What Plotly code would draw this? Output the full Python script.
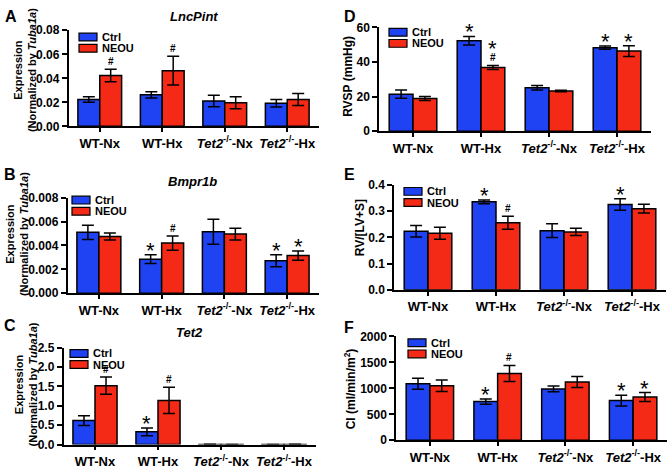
import plotly.graph_objects as go

W, H = 670, 472

groups = ["WT-Nx", "WT-Hx", "<i>Tet2</i><sup>-/-</sup>-Nx", "<i>Tet2</i><sup>-/-</sup>-Hx"]

# A - LncPint
lnc_ctrl = [0.0223, 0.0263, 0.0212, 0.0193]
lnc_ctrl_err = [0.0023, 0.0026, 0.0048, 0.0031]
lnc_neou = [0.0424, 0.0464, 0.0196, 0.0223]
lnc_neou_err = [0.0052, 0.0120, 0.0050, 0.0050]
lnc_ctrl_sig = ["", "", "", ""]
lnc_neou_sig = ["#", "#", "", ""]

# B - Bmpr1b
bmp_ctrl = [0.0051, 0.00285, 0.00515, 0.00272]
bmp_ctrl_err = [0.0006, 0.00037, 0.00105, 0.0005]
bmp_neou = [0.00475, 0.0042, 0.00495, 0.00315]
bmp_neou_err = [0.0003, 0.0006, 0.0005, 0.00038]
bmp_ctrl_sig = ["", "*", "", "*"]
bmp_neou_sig = ["", "#", "", "*"]

# C - Tet2
tet_ctrl = [0.62, 0.33, 0.006, 0.003]
tet_ctrl_err = [0.125, 0.10, 0.002, 0.001]
tet_neou = [1.52, 1.14, 0.004, 0.005]
tet_neou_err = [0.22, 0.335, 0.001, 0.002]
tet_ctrl_sig = ["", "*", "", ""]
tet_neou_sig = ["#", "#", "", ""]

# D - RVSP
rvsp_ctrl = [21.4, 52.3, 25.1, 48.3]
rvsp_ctrl_err = [2.4, 2.5, 1.3, 0.9]
rvsp_neou = [18.9, 36.8, 23.2, 46.3]
rvsp_neou_err = [1.1, 1.2, 0.4, 3.1]
rvsp_ctrl_sig = ["", "*", "", "*"]
rvsp_neou_sig = ["", "*#", "", "*"]

# E - RV/[LV+S]
rv_ctrl = [0.224, 0.336, 0.226, 0.326]
rv_ctrl_err = [0.022, 0.007, 0.026, 0.022]
rv_neou = [0.216, 0.256, 0.221, 0.310]
rv_neou_err = [0.023, 0.025, 0.014, 0.017]
rv_ctrl_sig = ["", "*", "", "*"]
rv_neou_sig = ["", "#", "", ""]

# F - CI
ci_ctrl = [1087, 745, 988, 764]
ci_ctrl_err = [106, 50, 56, 103]
ci_neou = [1050, 1286, 1124, 832]
ci_neou_err = [112, 155, 106, 87]
ci_ctrl_sig = ["", "*", "", "*"]
ci_neou_sig = ["", "#", "", "*"]

BLUE = "#1f43f2"
RED = "#f42a17"
FONT = "Arial, Liberation Sans, sans-serif"

left_title = "Expression<br>(Normalized by <i>Tuba1a</i>)"

# layout of each panel in pixels: x0, x1 (x axis), ytop, ybot (y axis), legend box, letter, title, ytitle
panels = [
    dict(letter="A", title="LncPint", ctrl=lnc_ctrl, ce=lnc_ctrl_err, neou=lnc_neou, ne=lnc_neou_err,
         cs=lnc_ctrl_sig, ns=lnc_neou_sig, ymax=0.08, dtick=0.02, fmt=".2f",
         x0=68.5, x1=318.5, yt=24, yb=123, leg=(79, 27), let=(3, 10), ttl_y=10,
         ytitle=left_title, yt_x=25, yt_y=65, yt_size=11),
    dict(letter="B", title="Bmpr1b", ctrl=bmp_ctrl, ce=bmp_ctrl_err, neou=bmp_neou, ne=bmp_neou_err,
         cs=bmp_ctrl_sig, ns=bmp_neou_sig, ymax=0.008, dtick=0.002, fmt=".3f",
         x0=67.5, x1=318.5, yt=196.5, yb=295, leg=(72, 195), let=(2, 173), ttl_y=180,
         ytitle=left_title, yt_x=17, yt_y=234, yt_size=11),
    dict(letter="C", title="Tet2", ctrl=tet_ctrl, ce=tet_ctrl_err, neou=tet_neou, ne=tet_neou_err,
         cs=tet_ctrl_sig, ns=tet_neou_sig, ymax=2.5, dtick=0.5, fmt=".1f",
         x0=63.5, x1=315.5, yt=351, yb=451, leg=(70, 353), let=(2, 328), ttl_y=335,
         ytitle=left_title, yt_x=26, yt_y=389, yt_size=11),
    dict(letter="D", title="", ctrl=rvsp_ctrl, ce=rvsp_ctrl_err, neou=rvsp_neou, ne=rvsp_neou_err,
         cs=rvsp_ctrl_sig, ns=rvsp_neou_sig, ymax=60, dtick=20, fmt="d",
         x0=379, x1=651, yt=21, yb=128, leg=(389, 22), let=(342, 10), ttl_y=0,
         ytitle="RVSP (mmHg)", yt_x=348, yt_y=72, yt_size=12),
    dict(letter="E", title="", ctrl=rv_ctrl, ce=rv_ctrl_err, neou=rv_neou, ne=rv_neou_err,
         cs=rv_ctrl_sig, ns=rv_neou_sig, ymax=0.4, dtick=0.1, fmt=".1f",
         x0=394, x1=666, yt=183.5, yb=291.5, leg=(404, 186), let=(342, 173), ttl_y=0,
         ytitle="RV/[LV+S]", yt_x=360, yt_y=228, yt_size=12),
    dict(letter="F", title="", ctrl=ci_ctrl, ce=ci_ctrl_err, neou=ci_neou, ne=ci_neou_err,
         cs=ci_ctrl_sig, ns=ci_neou_sig, ymax=2000, dtick=500, fmt="d",
         x0=396, x1=667, yt=339.5, yb=446.5, leg=(408, 342), let=(342, 330), ttl_y=0,
         ytitle="CI (ml/min/m<sup>2</sup>)", yt_x=350, yt_y=393, yt_size=12),
]

fig = go.Figure()
shapes = []
annotations = []
xpos = list(range(len(groups)))
half = 0.175  # offset of each bar center from the group center (bargap 0.3)

for i, p in enumerate(panels):
    n = "" if i == 0 else str(i + 1)
    xa, ya = "x" + n, "y" + n
    for name, vals, errs, col in [("Ctrl", p["ctrl"], p["ce"], BLUE), ("NEOU", p["neou"], p["ne"], RED)]:
        fig.add_trace(go.Bar(
            x=xpos, y=vals, name=name, xaxis=xa, yaxis=ya, showlegend=False,
            marker=dict(color=col, line=dict(color="black", width=1.5)),
            error_y=dict(type="data", array=errs, color="black", thickness=1.5, width=6),
        ))

    xdom = [p["x0"] / W, p["x1"] / W]
    ydom = [1 - p["yb"] / H, 1 - p["yt"] / H]
    tickv = [round(k * p["dtick"], 6) for k in range(int(round(p["ymax"] / p["dtick"])) + 1)]
    fig.layout["xaxis" + n] = dict(
        domain=xdom, anchor=ya, range=[-0.5, 3.5], tickvals=xpos, ticktext=groups,
        showline=True, linecolor="black", linewidth=1.5, ticks="outside", ticklen=4,
        tickwidth=1.5, tickcolor="black", showgrid=False, zeroline=False,
        tickfont=dict(family=FONT, size=13, color="black", weight="bold"),
    )
    fig.layout["yaxis" + n] = dict(
        domain=ydom, anchor=xa, range=[0, p["ymax"]], tickvals=tickv, tickformat=p["fmt"],
        showline=True, linecolor="black", linewidth=1.5, ticks="outside", ticklen=5,
        tickwidth=1.5, tickcolor="black", showgrid=False, zeroline=False,
        tickfont=dict(family=FONT, size=12, color="black", weight="bold"),
    )

    # significance marks
    for vals, errs, sigs, off in [(p["ctrl"], p["ce"], p["cs"], -half), (p["neou"], p["ne"], p["ns"], half)]:
        for k, s in enumerate(sigs):
            top = vals[k] + errs[k]
            if "#" in s:
                annotations.append(dict(x=k + off, y=top, xref=xa, yref=ya, text="#", showarrow=False,
                                        yanchor="bottom", yshift=0,
                                        font=dict(family=FONT, size=10, color="black", weight="bold")))
            if "*" in s:
                annotations.append(dict(x=k + off, y=top, xref=xa, yref=ya, text="*", showarrow=False,
                                        yanchor="bottom", yshift=(2 if "#" in s else -10),
                                        font=dict(family=FONT, size=22, color="black")))

    # legend box
    lx, ly = p["leg"]
    for r, (lab, col) in enumerate([("Ctrl", BLUE), ("NEOU", RED)]):
        top = ly + r * 11.5
        shapes.append(dict(type="rect", xref="paper", yref="paper",
                           x0=lx / W, x1=(lx + 18) / W, y0=1 - (top + 8) / H, y1=1 - top / H,
                           fillcolor=col, line=dict(color="black", width=1.2)))
        annotations.append(dict(x=(lx + 21) / W, y=1 - (top + 4) / H, xref="paper", yref="paper",
                                text=lab, showarrow=False, xanchor="left", yanchor="middle",
                                font=dict(family=FONT, size=11, color="black", weight="bold")))

    # panel letter
    lx, ly = p["let"]
    annotations.append(dict(x=lx / W, y=1 - ly / H, xref="paper", yref="paper", text=p["letter"],
                            showarrow=False, xanchor="left", yanchor="middle",
                            font=dict(family=FONT, size=16, color="black", weight="bold")))
    # panel title
    if p["title"]:
        annotations.append(dict(x=(p["x0"] + p["x1"]) / 2 / W, y=1 - p["ttl_y"] / H, xref="paper",
                                yref="paper", text="<i>" + p["title"] + "</i>", showarrow=False,
                                xanchor="center", yanchor="middle",
                                font=dict(family=FONT, size=13, color="black", weight="bold")))
    # y title
    annotations.append(dict(x=p["yt_x"] / W, y=1 - p["yt_y"] / H, xref="paper", yref="paper",
                            text=p["ytitle"], showarrow=False, textangle=-90,
                            xanchor="center", yanchor="middle",
                            font=dict(family=FONT, size=p["yt_size"], color="black", weight="bold")))

fig.update_layout(
    width=W, height=H, margin=dict(l=0, r=0, t=0, b=0),
    paper_bgcolor="white", plot_bgcolor="white",
    barmode="group", bargap=0.3, bargroupgap=0,
    shapes=shapes, annotations=annotations, showlegend=False,
)

# drop the browser's default body margin so the figure fills the window
fig.write_html("out.html", config={"displayModeBar": False},
               post_script="document.body.style.margin='0px';")
